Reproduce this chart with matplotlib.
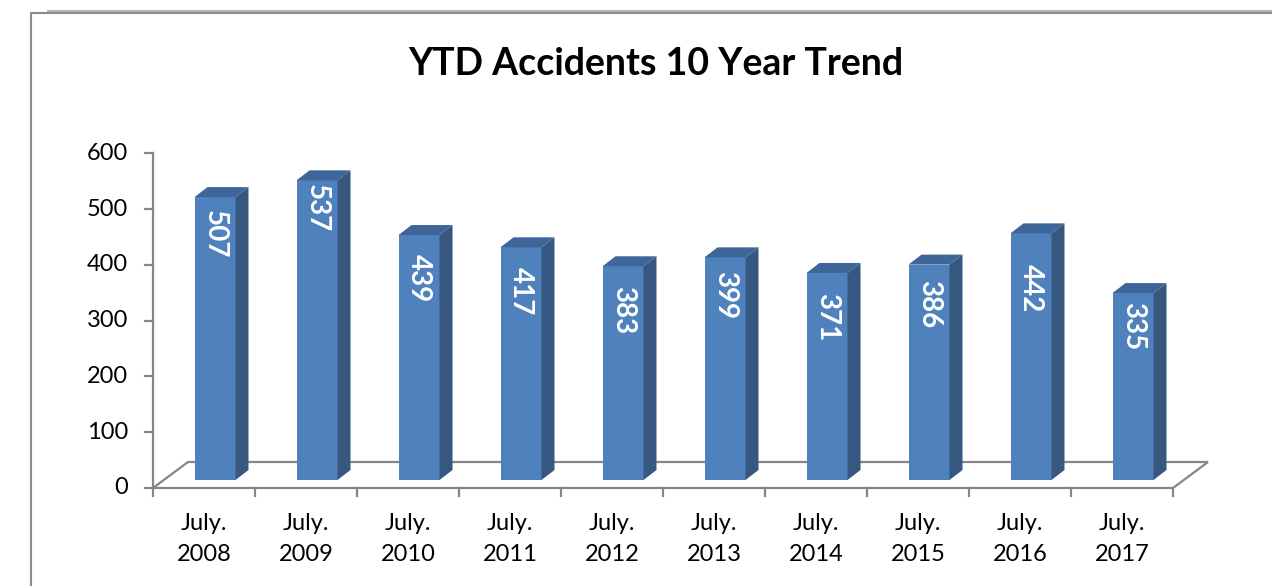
import numpy as np
import matplotlib.pyplot as plt
from matplotlib.patches import Polygon
from matplotlib.lines import Line2D

# data
categories = ["July.\n2008", "July.\n2009", "July.\n2010", "July.\n2011", "July.\n2012",
              "July.\n2013", "July.\n2014", "July.\n2015", "July.\n2016", "July.\n2017"]
accidents = [507, 537, 439, 417, 383, 399, 371, 386, 442, 335]
y_ticks = [0, 100, 200, 300, 400, 500, 600]

# how far below each bar top its label sits (px), the labels were nudged by hand
label_drop = [37, 28, 43, 44, 44, 38, 44, 39, 55, 33]

plt.rcParams['font.family'] = ['Lato', 'DejaVu Sans']

W, H = 1272, 586
fig = plt.figure(figsize=(W / 100, H / 100), dpi=100)
ax = fig.add_axes([0, 0, 1, 1])

# scale: one category = 102 px, 100 units = 55.8 px
px_cat = 102.0
px_val = 0.558
x0, y0 = 153, 488  # pixel position of the axes origin
ax.set_xlim(-x0 / px_cat, (W - x0) / px_cat)
ax.set_ylim(-(H - y0) / px_val, y0 / px_val)
ax.axis('off')

grey = '#868686'
front_c = '#4F81BD'
side_c = '#36577F'
top_c = '#3E6698'

n = len(accidents)

# floor of the 3d plot
fdx, fdy = 35 / px_cat, 26 / px_val
floor = Polygon([(0, 0), (n, 0), (n + fdx, fdy), (fdx, fdy)], closed=True,
                facecolor='none', edgecolor=grey, lw=1.6, zorder=1)
ax.add_patch(floor)

# value axis
ax.plot([0, 0], [0, y_ticks[-1]], color=grey, lw=1.6, zorder=1)
for t in y_ticks:
    ax.plot([-8 / px_cat, 0], [t, t], color=grey, lw=1.6, zorder=1)
    ax.text(-25 / px_cat, t, str(t), ha='right', va='center', fontsize=17, color='black')

# category ticks and labels
for i in range(n + 1):
    ax.plot([i, i], [0, -8 / px_val], color=grey, lw=1.6, zorder=1)
for i, lab in enumerate(categories):
    ax.text(i + 0.5, -51 / px_val, lab, ha='center', va='center', fontsize=17,
            linespacing=1.62, color='black')

# bars: front face + side + top
bdx, bdy = 11 / px_cat, 8 / px_val      # bar plane offset
sdx, sdy = 13 / px_cat, 10 / px_val     # bar depth
bw = 41 / px_cat
xs = np.arange(n) + 0.5 + bdx
ax.bar(xs, accidents, width=bw, bottom=bdy, color=front_c, zorder=3)
for x, v, d in zip(xs, accidents, label_drop):
    xl, xr = x - bw / 2, x + bw / 2
    b, t = bdy, bdy + v
    ax.add_patch(Polygon([(xr, b), (xr + sdx, b + sdy), (xr + sdx, t + sdy), (xr, t)],
                         closed=True, facecolor=side_c, edgecolor='none', zorder=3))
    ax.add_patch(Polygon([(xl, t), (xr, t), (xr + sdx, t + sdy), (xl + sdx, t + sdy)],
                         closed=True, facecolor=top_c, edgecolor='none', zorder=3))
    ax.text(x, t - d / px_val, str(v), rotation=270, ha='center', va='center',
            fontsize=20, fontweight='bold', color='white', zorder=4)

fig.text(656 / W, 1 - 75 / H, 'YTD Accidents 10 Year Trend', ha='center', va='baseline',
         fontsize=27, fontweight='bold', color='black')

# chart frame
fig.add_artist(Line2D([31 / W, 31 / W, 1], [0, 1 - 13 / H, 1 - 13 / H], color='#8c8c8c', lw=1.5))
fig.add_artist(Line2D([48 / W, 1], [1 - 10.5 / H, 1 - 10.5 / H], color='#a6a6a6', lw=1.2))

fig.savefig('out.png', dpi=100)
